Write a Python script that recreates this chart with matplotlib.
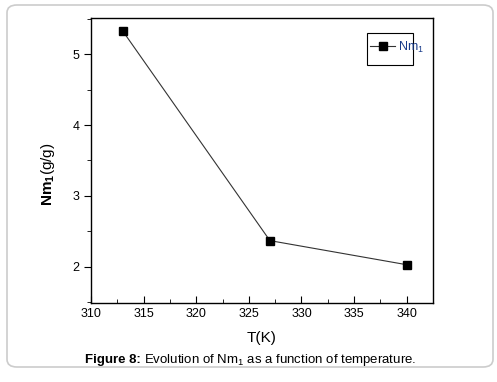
import matplotlib.pyplot as plt
from matplotlib.patches import FancyBboxPatch, Rectangle
from matplotlib.ticker import MultipleLocator

# Datos
temperatura = [313, 327, 340]
nm1 = [5.33, 2.37, 2.03]
serie = "Nm$_1$"

plt.rcParams['font.family'] = ['Liberation Sans', 'DejaVu Sans']
plt.rcParams['mathtext.fontset'] = 'custom'
plt.rcParams['mathtext.rm'] = 'Liberation Sans'
plt.rcParams['mathtext.it'] = 'Liberation Sans:italic'
plt.rcParams['mathtext.bf'] = 'Liberation Sans:bold'

fig = plt.figure(figsize=(4.97, 3.82), dpi=100)

# Marco redondeado alrededor de la figura
marco = FancyBboxPatch((7 / 497, 15 / 382), 486 / 497, 362 / 382,
                       boxstyle="round,pad=0,rounding_size=0.02",
                       transform=fig.transFigure, facecolor='white',
                       edgecolor='#cccccc', linewidth=1.2, zorder=-10)
fig.patches.append(marco)

ax = fig.add_axes([91 / 497, 1 - 303 / 382, 342 / 497, 285 / 382])
ax.plot(temperatura, nm1, color='#333333', linewidth=0.8,
        marker='s', markersize=5.5, markerfacecolor='black',
        markeredgecolor='black', label=serie)

ax.set_xlim(310, 342.5)
ax.set_ylim(1.49, 5.51)
ax.xaxis.set_major_locator(MultipleLocator(5))
ax.xaxis.set_minor_locator(MultipleLocator(2.5))
ax.yaxis.set_major_locator(MultipleLocator(1))
ax.yaxis.set_minor_locator(MultipleLocator(0.5))
ax.tick_params(axis='x', which='both', direction='in', labelsize=9)
ax.tick_params(axis='x', which='major', length=5)
ax.tick_params(axis='x', which='minor', length=3)
ax.tick_params(axis='y', which='both', direction='out', labelsize=9)
ax.tick_params(axis='y', which='major', length=5)
ax.tick_params(axis='y', which='minor', length=3)
for s in ax.spines.values():
    s.set_linewidth(1.0)

ax.set_xlabel("T(K)", fontsize=11, labelpad=8)
ax.set_ylabel(r"$\mathbf{Nm}_{\mathbf{1}}$(g/g)", fontsize=11)
ax.yaxis.set_label_coords(-0.1, 0.45)

# Leyenda con su caja
ax.add_patch(Rectangle((0.807, 0.835), 0.135, 0.112, transform=ax.transAxes,
                       fill=False, edgecolor='black', linewidth=0.8))
leg = ax.legend(loc='upper left', bbox_to_anchor=(0.787, 0.96), fontsize=9,
                frameon=False, handlelength=2.0, handletextpad=0.2,
                borderpad=0.3)
leg.get_texts()[0].set_color('#1a3c8a')

# Pie de figura: parte en negrita y resto normal
y_pie = 1 - 360 / 382
t1 = fig.text(85 / 497, y_pie, "Figure 8:", fontweight='bold',
              ha='left', va='center', fontsize=9.5)
fig.canvas.draw()
x_fin = fig.transFigure.inverted().transform(
    (t1.get_window_extent().x1, 0))[0]
fig.text(x_fin + 0.006, y_pie, "Evolution of Nm$_1$ as a function of temperature.",
         ha='left', va='center', fontsize=9.5)

plt.savefig("out.png", dpi=100)
